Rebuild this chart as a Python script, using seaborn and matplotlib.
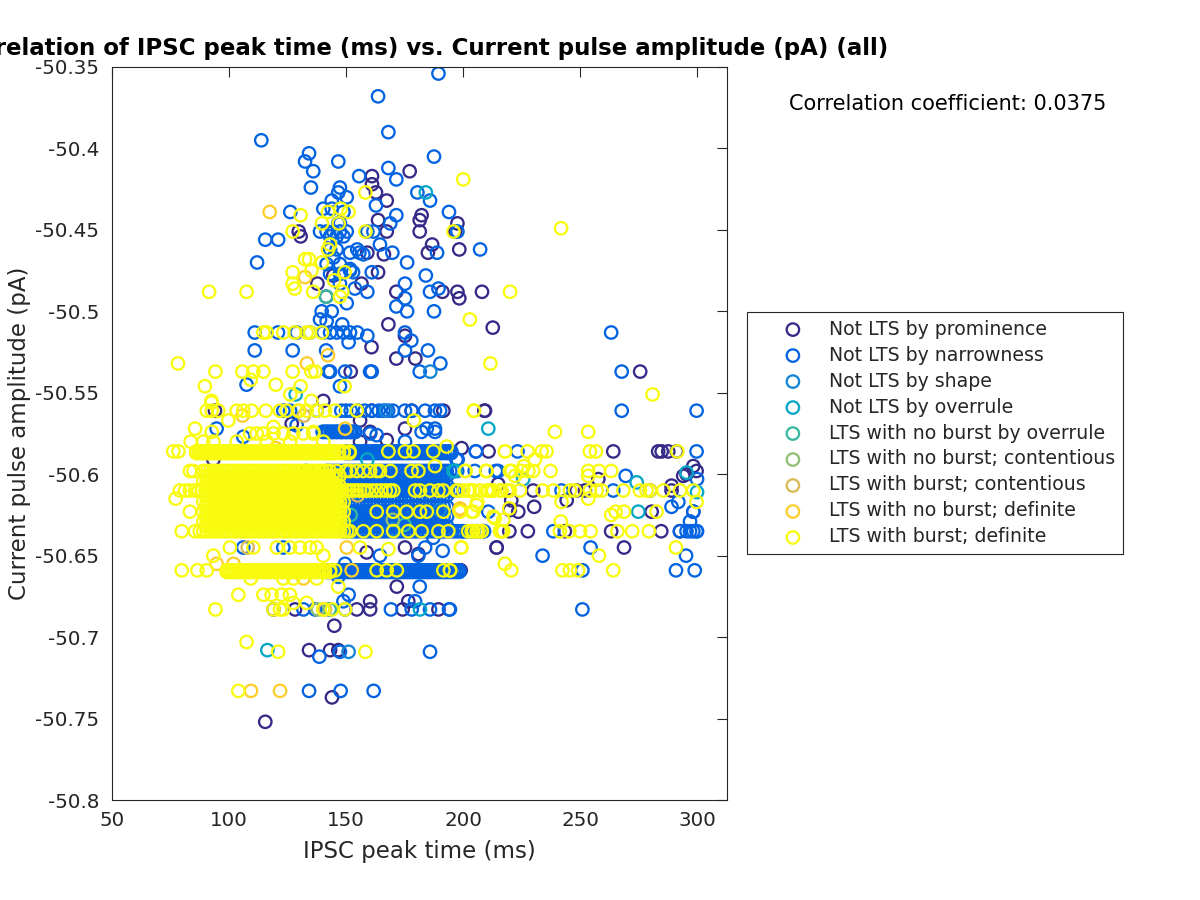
import matplotlib
matplotlib.use("Agg")
import matplotlib.pyplot as plt
import seaborn as sns
from matplotlib.ticker import FormatStrFormatter

labels = ["Not LTS by prominence", "Not LTS by narrowness", "Not LTS by shape",
          "Not LTS by overrule", "LTS with no burst by overrule",
          "LTS with no burst; contentious", "LTS with burst; contentious",
          "LTS with no burst; definite", "LTS with burst; definite"]
colors = ["#352a87", "#0363e1", "#1485d4", "#06a7c6", "#38b99e",
          "#92bf73", "#d9ba56", "#fcce2e", "#f9fb0e"]

x_ticks = [50, 100, 150, 200, 250, 300]
y_ticks = [-50.8, -50.75, -50.7, -50.65, -50.6, -50.55, -50.5, -50.45, -50.4, -50.35]

# scattered points
prom_x = [161.1, 177.2, 161.1, 162.8, 167.4, 163.7, 167.4, 182.3, 181.5, 181.5, 197.6, 196.6, 186.8, 185, 198.4, 159.1, 166.2, 129.8, 130.6, 163.7, 156.6, 137.8, 144.6, 141.5, 171.5, 191.2, 197.6, 198.4, 208.1, 212.7, 168.1, 175.2, 160.9, 171.5, 179.6, 152, 140.3,
          209.1, 199.4, 210.9, 264.2, 283.4, 284.9, 287.7, 291.3, 298.4, 295.5, 299.8, 294.1, 257.8, 215, 289.1, 220.6, 230.4, 244.3, 223.6, 280.6, 220, 298.4, 219.8, 227.7, 243.5, 263.3, 284.7, 292.7, 214.3, 268.8, 230, 248.5, 252.1, 279.9, 289.1, 199, 275.7,
          94, 161, 178, 191.6, 209.4, 156, 175.2, 160.3, 126.8, 167.4, 156, 93.3, 214.4, 175.2, 158.8, 180.9, 182.3, 185.9, 198.7, 171.7, 160.3, 176.6, 119, 128.2, 154.6, 160.3, 174.2, 189.5, 145, 134.2, 143.2, 146.7, 144, 115.5]
prom_y = [-50.417, -50.414, -50.422, -50.427, -50.432, -50.444, -50.451, -50.441, -50.444, -50.451, -50.446, -50.451, -50.459, -50.464, -50.462, -50.464, -50.465, -50.451, -50.454, -50.476, -50.483, -50.483, -50.478, -50.491, -50.488, -50.488, -50.488, -50.492, -50.488, -50.510, -50.508, -50.515, -50.522, -50.529, -50.529, -50.537, -50.555,
          -50.561, -50.584, -50.586, -50.586, -50.586, -50.586, -50.586, -50.586, -50.595, -50.600, -50.598, -50.601, -50.603, -50.606, -50.607, -50.616, -50.620, -50.616, -50.623, -50.623, -50.622, -50.623, -50.635, -50.635, -50.635, -50.635, -50.635, -50.635, -50.645, -50.645, -50.610, -50.610, -50.610, -50.610, -50.610, -50.659, -50.537,
          -50.561, -50.561, -50.561, -50.561, -50.561, -50.567, -50.572, -50.574, -50.569, -50.579, -50.580, -50.591, -50.645, -50.645, -50.648, -50.649, -50.659, -50.659, -50.659, -50.669, -50.678, -50.678, -50.683, -50.683, -50.683, -50.683, -50.683, -50.683, -50.693, -50.708, -50.708, -50.708, -50.737, -50.752]

narrow_x = [189.5, 163.7, 168.1, 113.8, 134.2, 132.5, 146.7, 187.6, 136, 168.1, 155.6, 171.5, 135, 180.5, 185.9, 194, 171.5, 168.9, 162.8, 197.6, 188.9, 207.3, 169.8, 164.5, 159.1, 161.7, 176.1, 184.1, 175.2, 189.5, 185.9, 175.2, 171.5, 176.1, 187.6, 159.1, 153.8, 161, 153, 151.7, 151.7, 154.8, 157.4, 155.7, 115.5, 121, 126.2, 112,
            147.4, 146.7, 150.3, 143.9, 140.3, 143.9, 148.9, 147.4, 146.7, 138.9, 141.7, 144.6, 147.4, 150.3, 143.2, 146, 148.9, 143.2, 146, 144.6, 141.7, 147.4, 151.7, 147.4, 143.2, 147.4, 139.6, 143.9, 150.3, 138.9, 141.7, 148.4,
            111, 120.9, 128.9, 134.6, 140.3, 143.2, 146, 148.9, 151.7, 154.8, 159.1, 175.2, 177.9, 151.1, 111, 127.2, 141.5, 175.2, 185, 190.3, 181.5, 142.5, 143.2, 149.6, 160.3, 161, 107.5, 147.4,
            263.3, 267.8, 267.8, 299.8, 299.8, 223.3, 205.5, 197.2, 269.5, 215, 242.1, 264.2, 289.1, 292, 298.4, 297, 292.7, 295.5, 297, 298.4, 299.8, 300, 238.6, 208.6, 200, 234, 254.5, 295.3, 291, 299, 251, 251, 194.4, 210.8, 300,
            94.7, 123.2, 126.1, 137.5, 148, 150, 152, 155, 158, 161, 164, 166, 168, 170, 175.2, 178.1, 183.8, 188, 190.2, 140, 142, 144, 146, 148, 150, 152, 154, 160.3, 163.1, 182.3, 188, 188, 184.5, 197.7, 205.5, 106.1, 128.9, 175.2,
            106.1, 123.2, 183.8, 191.3, 187.3, 164.5, 180.9, 149.6, 146.7, 181.5, 151.1, 148.9, 179.5, 131.8, 136.8, 143.2, 149.6, 169.2, 178.1, 185.9, 194, 138.6, 185.9, 147.4, 134.2, 147.7, 161.8, 205, 214]
narrow_y = [-50.354, -50.368, -50.390, -50.395, -50.403, -50.408, -50.408, -50.405, -50.414, -50.412, -50.417, -50.419, -50.424, -50.427, -50.432, -50.439, -50.441, -50.446, -50.435, -50.451, -50.464, -50.462, -50.464, -50.459, -50.451, -50.451, -50.470, -50.478, -50.483, -50.486, -50.488, -50.492, -50.497, -50.500, -50.500, -50.488, -50.486, -50.476, -50.476, -50.475, -50.464, -50.462, -50.465, -50.464, -50.456, -50.456, -50.439, -50.470,
            -50.424, -50.427, -50.430, -50.432, -50.437, -50.437, -50.439, -50.446, -50.446, -50.451, -50.451, -50.451, -50.451, -50.451, -50.454, -50.454, -50.454, -50.462, -50.462, -50.467, -50.471, -50.471, -50.474, -50.477, -50.477, -50.483, -50.500, -50.500, -50.495, -50.505, -50.506, -50.508,
            -50.513, -50.513, -50.513, -50.513, -50.513, -50.513, -50.513, -50.513, -50.513, -50.513, -50.515, -50.513, -50.518, -50.519, -50.524, -50.524, -50.524, -50.524, -50.524, -50.532, -50.537, -50.537, -50.537, -50.537, -50.537, -50.537, -50.545, -50.546,
            -50.513, -50.537, -50.561, -50.561, -50.586, -50.586, -50.586, -50.591, -50.601, -50.598, -50.610, -50.610, -50.620, -50.617, -50.623, -50.629, -50.635, -50.635, -50.635, -50.635, -50.635, -50.635, -50.635, -50.635, -50.635, -50.650, -50.645, -50.650, -50.659, -50.659, -50.659, -50.683, -50.683, -50.623, -50.603,
            -50.572, -50.561, -50.561, -50.561, -50.561, -50.561, -50.561, -50.561, -50.561, -50.561, -50.561, -50.561, -50.561, -50.561, -50.561, -50.561, -50.561, -50.561, -50.561, -50.574, -50.574, -50.574, -50.574, -50.574, -50.574, -50.574, -50.574, -50.575, -50.576, -50.574, -50.572, -50.574, -50.572, -50.591, -50.586, -50.577, -50.570, -50.580,
            -50.645, -50.645, -50.645, -50.647, -50.639, -50.650, -50.650, -50.655, -50.663, -50.669, -50.674, -50.678, -50.678, -50.683, -50.683, -50.683, -50.683, -50.683, -50.683, -50.683, -50.683, -50.712, -50.709, -50.709, -50.733, -50.733, -50.733, -50.598, -50.598]

# blue rows, where the rings run together
narrow_586 = [150, 151.5, 153, 154.5, 156, 157.5, 159, 160.5, 162, 163.5, 165, 166.5, 168, 169.5, 171, 172.5, 174, 175.5, 177, 178.5, 180, 181.5, 183, 184.5, 186, 187.5, 189, 190.5, 192, 193.5, 195]
narrow_mid = [149.7, 151.2, 152.7, 154.2, 155.7, 157.2, 158.7, 160.2, 161.7, 163.2, 164.7, 166.2, 167.7, 169.2, 170.7, 172.2, 173.7, 175.2, 176.7, 178.2, 179.7, 181.2, 182.7, 184.2, 185.7, 187.2, 188.7, 190.2, 191.7, 193.2]
narrow_598 = [142, 143.5, 145, 146.5, 148, 149.5, 151, 152.5, 154, 155.5, 157, 158.5, 160, 161.5, 163, 164.5, 166, 167.5, 169, 170.5, 172, 173.5, 175, 176.5, 178, 179.5, 181, 182.5, 184, 185.5, 187, 188.5, 190, 191.5, 193, 194.5, 196, 197.5]
narrow_610 = [150, 151.5, 153, 154.5, 156, 157.5, 159, 160.5, 162, 163.5, 165, 166.5, 168, 169.5, 171, 172.5, 174, 175.5, 177, 178.5, 180, 181.5, 183, 184.5, 186, 187.5, 189, 190.5, 192, 193.5, 195, 196.5, 198]
narrow_623 = [148, 149.5, 151, 152.5, 154, 155.5, 157, 158.5, 160, 161.5, 163, 164.5, 166, 167.5, 169, 170.5, 172, 173.5, 175, 176.5, 178, 179.5, 181, 182.5, 184, 185.5, 187, 188.5, 190, 191.5]
narrow_635 = [149, 150.5, 152, 153.5, 155, 156.5, 158, 159.5, 161, 162.5, 164, 165.5, 167, 168.5, 170, 171.5, 173, 174.5, 176, 177.5, 179, 180.5, 182, 183.5, 185, 186.5, 188, 189.5, 191, 192.5, 194, 195.5, 197, 198.5, 200, 201.5, 203, 204.5, 206, 207.5, 209]
narrow_659 = [142, 143.2, 144.4, 145.6, 146.8, 148, 149.2, 150.4, 151.6, 152.8, 154, 155.2, 156.4, 157.6, 158.8, 160, 161.2, 162.4, 163.6, 164.8, 166, 167.2, 168.4, 169.6, 170.8, 172, 173.2, 174.4, 175.6, 176.8, 178, 179.2, 180.4, 181.6, 182.8, 184, 185.2, 186.4, 187.6, 188.8, 190, 191.2, 192.4, 193.6, 194.8, 196, 197.2, 198.4]
narrow_574 = [140.5, 141.5, 142.5, 143.5, 144.5, 145.5, 146.5, 147.5, 148.5, 149.5, 150.5, 151.5, 152.5, 153.5]

# yellow rows, where the rings run together
burst_586 = [86, 87.2, 88.4, 89.6, 90.8, 92, 93.2, 94.4, 95.6, 96.8, 98, 99.2, 100.4, 101.6, 102.8, 104, 105.2, 106.4, 107.6, 108.8, 110, 111.2, 112.4, 113.6, 114.8, 116, 117.2, 118.4, 119.6, 120.8, 122, 123.2, 124.4, 125.6, 126.8, 128, 129.2, 130.4, 131.6, 132.8, 134, 135.2, 136.4, 137.6, 138.8, 140, 141.2, 142.4, 143.6, 145, 147, 149, 151.5]
burst_598 = [89, 90.5, 92, 93.5, 95, 96.5, 98, 99.5, 101, 102.5, 104, 105.5, 107, 108.5, 110, 111.5, 113, 114.5, 116, 117.5, 119, 120.5, 122, 123.5, 125, 126.5, 128, 129.5, 131, 132.5, 134, 135.5, 137, 138.5, 140, 141.5, 143]
burst_mid = [90.2, 91.7, 93.2, 94.7, 96.2, 97.7, 99.2, 100.7, 102.2, 103.7, 105.2, 106.7, 108.2, 109.7, 111.2, 112.7, 114.2, 115.7, 117.2, 118.7, 120.2, 121.7, 123.2, 124.7, 126.2, 127.7, 129.2, 130.7, 132.2, 133.7, 135.2, 136.7, 138.2, 139.7, 141.2, 142.7, 144.2, 145.7, 147.2]
burst_610 = [85.5, 87, 88.5, 90, 91.5, 93, 94.5, 96, 97.5, 99, 100.5, 102, 103.5, 105, 106.5, 108, 109.5, 111, 112.5, 114, 115.5, 117, 118.5, 120, 121.5, 123, 124.5, 126, 127.5, 129, 130.5, 132, 133.5, 135, 136.5, 138, 139.5, 141, 142.5, 144, 145.5, 147, 148.5, 150, 151.5, 153, 154.5, 156, 157.5, 159, 161, 163, 165, 167, 168.8]
burst_623 = [89, 90.5, 92, 93.5, 95, 96.5, 98, 99.5, 101, 102.5, 104, 105.5, 107, 108.5, 110, 111.5, 113, 114.5, 116, 117.5, 119, 120.5, 122, 123.5, 125, 126.5, 128, 129.5, 131, 132.5, 134, 135.5, 137, 138.5, 140, 141.5, 143, 144.5, 146, 147.5, 149]
burst_635 = [87.5, 89, 90.5, 92, 93.5, 95, 96.5, 98, 99.5, 101, 102.5, 104, 105.5, 107, 108.5, 110, 111.5, 113, 114.5, 116, 117.5, 119, 120.5, 122, 123.5, 125, 126.5, 128, 129.5, 131, 132.5, 134, 135.5, 137, 138.5, 140, 141.5, 143, 144.5, 146, 147.5, 149, 150.5, 151.7]
burst_659 = [99, 100.2, 101.4, 102.6, 103.8, 105, 106.2, 107.4, 108.6, 109.8, 111, 112.2, 113.4, 114.6, 115.8, 117, 118.2, 119.4, 120.6, 121.8, 123, 124.2, 125.4, 126.6, 127.8, 129, 130.2, 131.4, 132.6, 133.8, 135, 136.2, 137.4, 138.6, 139.8, 141, 143.2]

burst_x = [200.1, 158.3, 142.3, 147.7, 151.1, 130.6, 139.7, 146.9, 127.2, 158.3, 195.9, 143.2, 142.3, 132.5, 134.2, 139.7, 135.2, 127.2, 149.4, 144.9, 127.2, 128.1, 136, 148.4, 147.4, 91.5, 107.5, 220.1, 202.9,
           114.7, 116.1, 123.2, 128.2, 133.2, 134.6, 139.7, 78.2, 211.7, 94.2, 105.7, 110.4, 114.7, 127.2, 135.2, 136.9, 109.3, 89.7, 120, 130.6, 149.4, 126.2, 92.5, 135.2, 241.9,
           204.7, 239.3, 253.5, 217.9, 227.6, 233.6, 235.7, 254.2, 256.8, 291.6, 230.7, 226, 237.4, 220.8, 225, 227.9, 230, 209.8, 201.1, 253.5, 258.1, 263.3, 222.2, 253.5, 281,
           197.2, 200.1, 202.9, 207.2, 210.8, 212.2, 215.8, 220, 224.3, 234, 238.6, 245.7, 247.8, 254.2, 257.1, 259.2, 268.5, 275.6, 278.4, 279.9, 285.6, 292.7, 298.4,
           253.5, 242.1, 299.8, 206.1, 219.8, 265.2, 268.8, 282.7, 263.3, 204.4, 213.6, 217.2, 241.8,
           202.2, 204.4, 206.5, 207.9, 215.8, 217.2, 241.4, 245.4, 250, 254.5, 266, 272.3, 279.4, 199.1, 291, 258.1, 217.9, 220.6, 242.5, 245.7, 249.2, 264.2, 194.4,
           90.5, 92.6, 95.4, 103.3, 106.1, 109.7, 115.7, 121.8, 124.6, 129.6, 133.2, 137.5, 141, 145.3, 154.6, 204.6, 85.5, 92.6, 99.7, 92.5, 179,
           109, 111.8, 114.7, 119, 123.2, 127.5, 131.8, 136, 119, 136, 83.6, 89, 93.3, 103.3, 116.1, 126.1, 140.3,
           76.2, 78.4, 168.1, 175.2, 178.8, 187.3, 218, 193, 83.3, 84.8, 146, 150, 151.7, 154.6, 157.4, 160.3, 163.1, 164.5, 169, 178, 180.9, 188, 200.9, 210.1, 220,
           79, 81.2, 83.3, 170.2, 179.5, 181.6, 185.9, 189.5, 191.6, 198, 202.3, 204.4, 210.1, 212.9, 216.5, 218.7, 77.2, 83.3,
           163.1, 170.2, 175.9, 181.6, 184.5, 191.6, 198.7, 203.7, 205.8, 213, 79.8, 85.5, 157.4, 163.1, 170.2, 176.6, 182.3, 189.5, 193.7, 203.7, 205.8, 208, 216.5,
           100.4, 110.4, 120.4, 126.1, 130.3, 134.6, 137.5, 156, 199.3, 93.3, 140.3, 168.1, 79.8, 86.5, 90.5, 145.3, 163.1, 167.4, 171.7, 191.6, 194.5,
           109.3, 123.2, 127.5, 137.5, 146.7, 104, 114.7, 118.2, 122.5, 126, 133.2, 127.5, 94.2, 119, 121.8, 123.2, 140.3, 144, 149.6, 107.5, 121, 158.3, 104]
burst_y = [-50.419, -50.427, -50.439, -50.437, -50.439, -50.441, -50.446, -50.446, -50.451, -50.451, -50.451, -50.459, -50.462, -50.468, -50.468, -50.470, -50.475, -50.476, -50.476, -50.481, -50.483, -50.486, -50.488, -50.488, -50.491, -50.488, -50.488, -50.488, -50.505,
           -50.513, -50.513, -50.513, -50.513, -50.513, -50.513, -50.513, -50.532, -50.532, -50.537, -50.537, -50.537, -50.537, -50.537, -50.537, -50.537, -50.542, -50.546, -50.545, -50.546, -50.546, -50.551, -50.555, -50.555, -50.449,
           -50.561, -50.574, -50.574, -50.586, -50.586, -50.586, -50.586, -50.586, -50.586, -50.586, -50.591, -50.595, -50.598, -50.598, -50.598, -50.598, -50.598, -50.598, -50.598, -50.598, -50.598, -50.598, -50.601, -50.601, -50.551,
           -50.610, -50.610, -50.610, -50.610, -50.610, -50.610, -50.610, -50.610, -50.610, -50.610, -50.610, -50.610, -50.610, -50.610, -50.610, -50.610, -50.610, -50.610, -50.610, -50.610, -50.610, -50.610, -50.610,
           -50.615, -50.617, -50.617, -50.617, -50.621, -50.623, -50.623, -50.623, -50.625, -50.623, -50.627, -50.628, -50.629,
           -50.635, -50.635, -50.635, -50.635, -50.635, -50.635, -50.635, -50.635, -50.635, -50.635, -50.635, -50.635, -50.635, -50.645, -50.645, -50.650, -50.655, -50.659, -50.659, -50.659, -50.659, -50.659, -50.659,
           -50.561, -50.561, -50.561, -50.561, -50.561, -50.561, -50.561, -50.561, -50.561, -50.561, -50.561, -50.561, -50.561, -50.561, -50.561, -50.561, -50.572, -50.574, -50.567, -50.556, -50.567,
           -50.575, -50.575, -50.575, -50.575, -50.575, -50.575, -50.575, -50.575, -50.571, -50.574, -50.580, -50.580, -50.580, -50.580, -50.580, -50.580, -50.580,
           -50.586, -50.586, -50.586, -50.586, -50.586, -50.586, -50.586, -50.583, -50.598, -50.598, -50.598, -50.598, -50.598, -50.598, -50.598, -50.598, -50.598, -50.598, -50.598, -50.598, -50.598, -50.595, -50.598, -50.598, -50.598,
           -50.610, -50.610, -50.610, -50.610, -50.610, -50.610, -50.610, -50.610, -50.610, -50.610, -50.610, -50.610, -50.610, -50.610, -50.610, -50.610, -50.615, -50.623,
           -50.623, -50.623, -50.623, -50.623, -50.623, -50.623, -50.623, -50.623, -50.619, -50.626, -50.635, -50.635, -50.635, -50.635, -50.635, -50.635, -50.635, -50.635, -50.635, -50.635, -50.635, -50.635, -50.635,
           -50.645, -50.645, -50.645, -50.645, -50.645, -50.645, -50.645, -50.645, -50.645, -50.650, -50.650, -50.646, -50.659, -50.659, -50.659, -50.659, -50.659, -50.659, -50.659, -50.659, -50.659,
           -50.664, -50.664, -50.664, -50.664, -50.669, -50.674, -50.674, -50.674, -50.674, -50.674, -50.679, -50.679, -50.683, -50.683, -50.683, -50.683, -50.683, -50.683, -50.683, -50.703, -50.709, -50.709, -50.733]

shape_x = [151.1, 167, 186, 133, 140, 190, 196, 170]
shape_y = [-50.709, -50.561, -50.537, -50.598, -50.61, -50.622, -50.598, -50.634]

overrule_x = [184.1, 210.8, 274.2, 274.9, 295.5, 225.7, 300, 196.5, 116.4, 181.6, 159.1, 195.9, 128.5]
overrule_y = [-50.427, -50.572, -50.605, -50.623, -50.599, -50.603, -50.611, -50.598, -50.708, -50.683, -50.591, -50.598, -50.551]

no_burst_over_x = [141.5, 175, 143, 152]
no_burst_over_y = [-50.491, -50.631, -50.683, -50.625]

no_burst_cont_x = [128.2, 138, 170]
no_burst_cont_y = [-50.513, -50.683, -50.628]

burst_cont_x = [132, 141, 108, 155]
burst_cont_y = [-50.564, -50.683, -50.645, -50.613]

no_burst_def_x = [117.4, 142.3, 133.3, 132.5, 109.4, 121.8, 105.8, 149.6, 150.3, 152.4, 94.7, 101.9, 131.8, 198.4, 198.7, 140.3, 130, 120]
no_burst_def_y = [-50.439, -50.527, -50.532, -50.479, -50.733, -50.733, -50.564, -50.572, -50.645, -50.659, -50.655, -50.655, -50.664, -50.622, -50.621, -50.683, -50.561, -50.584]

narrow_rows = [(-50.574, narrow_574), (-50.586, narrow_586), (-50.587, narrow_586),
               (-50.598, narrow_598), (-50.601, narrow_mid), (-50.607, narrow_mid),
               (-50.610, narrow_610), (-50.613, narrow_mid), (-50.620, narrow_mid),
               (-50.623, narrow_623), (-50.626, narrow_mid), (-50.632, narrow_mid),
               (-50.635, narrow_635), (-50.659, narrow_659), (-50.660, narrow_659)]
burst_rows = [(-50.586, burst_586), (-50.587, burst_586),
              (-50.598, burst_598), (-50.601, burst_mid), (-50.604, burst_598),
              (-50.607, burst_mid), (-50.610, burst_610), (-50.613, burst_mid), (-50.617, burst_623),
              (-50.620, burst_mid), (-50.623, burst_623), (-50.626, burst_mid), (-50.629, burst_623),
              (-50.632, burst_mid), (-50.635, burst_635), (-50.659, burst_659), (-50.660, burst_659)]


def add_rows(xs, ys, rows):
    xs = list(xs)
    ys = list(ys)
    for level, row in rows:
        xs += row
        ys += [level] * len(row)
    return xs, ys


narrow_all_x, narrow_all_y = add_rows(narrow_x, narrow_y, narrow_rows)
burst_all_x, burst_all_y = add_rows(burst_x, burst_y, burst_rows)

series = [(prom_x, prom_y), (narrow_all_x, narrow_all_y), (shape_x, shape_y),
          (overrule_x, overrule_y), (no_burst_over_x, no_burst_over_y),
          (no_burst_cont_x, no_burst_cont_y), (burst_cont_x, burst_cont_y),
          (no_burst_def_x, no_burst_def_y), (burst_all_x, burst_all_y)]

sns.set_theme(style="white")
plt.rcParams["font.family"] = "DejaVu Sans"

fig = plt.figure(figsize=(12, 9), dpi=100)
ax = fig.add_axes([112 / 1200, 100 / 900, 615 / 1200, 733 / 900])

for (xs, ys), label, color in zip(series, labels, colors):
    sns.scatterplot(x=xs, y=ys, ax=ax, marker="o", s=80, facecolor="none",
                    edgecolor=color, linewidth=1.65, label=label, clip_on=True)

ax.set_xlim(50, 312.8)
ax.set_ylim(-50.8, -50.35)
ax.set_xticks(x_ticks)
ax.set_yticks(y_ticks)
ax.xaxis.set_major_formatter(FormatStrFormatter("%g"))
ax.yaxis.set_major_formatter(FormatStrFormatter("%g"))
ax.tick_params(direction="in", length=7, width=0.8, top=True, right=True, labelsize=14.3,
               colors="#262626")
ax.tick_params(axis="x", pad=8)
ax.tick_params(axis="y", pad=9)
for spine in ax.spines.values():
    spine.set_color("#262626")
    spine.set_linewidth(0.8)

ax.set_xlabel("IPSC peak time (ms)", fontsize=16.5, color="#262626", labelpad=7)
ax.set_ylabel("Current pulse amplitude (pA)", fontsize=16.5, color="#262626", labelpad=3)
ax.set_title("Correlation of IPSC peak time (ms) vs. Current pulse amplitude (pA) (all)",
             fontsize=16.5, fontweight="bold", color="black", pad=9)

fig.text(947.5 / 1200, 1 - 104 / 900, "Correlation coefficient: 0.0375", fontsize=15,
         ha="center", va="center", color="black")

leg = ax.legend(loc="upper left", bbox_to_anchor=(747 / 1200, 1 - 312 / 900),
                bbox_transform=fig.transFigure, fontsize=13.6, frameon=True, fancybox=False,
                edgecolor="#262626", framealpha=1, borderaxespad=0, borderpad=0.4,
                labelspacing=0.37, handletextpad=-0.12, handlelength=4.06)
leg.get_frame().set_linewidth(0.8)

fig.savefig("out.png", dpi=100)
